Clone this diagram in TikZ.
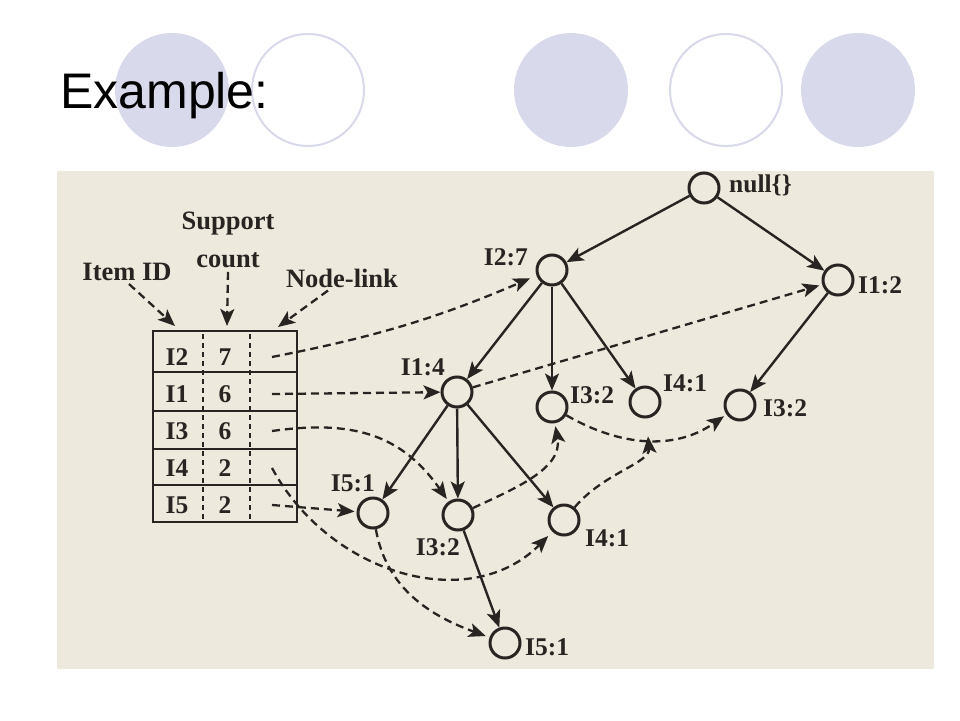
\documentclass[tikz,border=0pt]{standalone}
\usepackage{fontspec}
\setmainfont{Liberation Serif}
\newfontfamily\slidefont{Liberation Sans}
\usetikzlibrary{arrows.meta}
\definecolor{lav}{RGB}{217,217,236}
\definecolor{paper}{RGB}{237,233,220}
\definecolor{ink}{RGB}{40,36,34}
\newcommand{\lbf}{\fontsize{25.5}{25.5}\selectfont\bfseries}
\newcommand{\hdf}{\fontsize{26.5}{26.5}\selectfont\bfseries}
\tikzset{
  fpnode/.style={circle,draw=ink,line width=3pt,minimum size=30pt,inner sep=0pt},
  tree/.style={draw=ink,line width=2.4pt,-{Stealth[length=17pt,width=14pt,inset=4pt]}},
  link/.style={draw=ink,line width=2.3pt,dash pattern=on 8pt off 5pt,-{Stealth[length=17pt,width=14pt,inset=4pt]}},
  lbl/.style={font=\lbf,text=ink,inner sep=0pt},
  hdr/.style={font=\hdf,text=ink,inner sep=0pt},
}
\begin{document}
\begin{tikzpicture}[x=1pt,y=-1pt]
   \useasboundingbox (0,0) rectangle (960,720);
   \fill[white] (0,0) rectangle (960,720);
   \fill[lav] (172,90) circle (57pt);
   \draw[lav,line width=2pt] (308,90) circle (56pt);
   \fill[lav] (571,90) circle (57pt);
   \draw[lav,line width=2pt] (726,90) circle (56pt);
   \fill[lav] (858,90) circle (57pt);
   \node[anchor=base west,inner sep=0pt,font=\slidefont\fontsize{50}{50}\selectfont] (title) at (60,108) {Example:};
   \fill[paper] (57,171) rectangle (934,669);
   \node[fpnode] (root) at (704,188) {};
   \node[fpnode] (i27)  at (552,270) {};
   \node[fpnode] (i12)  at (838,280) {};
   \node[fpnode] (i14)  at (457,392) {};
   \node[fpnode] (i32a) at (552,407) {};
   \node[fpnode] (i41a) at (645,402) {};
   \node[fpnode] (i32b) at (740,405) {};
   \node[fpnode] (i51a) at (373,513) {};
   \node[fpnode] (i32c) at (458,515) {};
   \node[fpnode] (i41b) at (564,520) {};
   \node[fpnode] (i51b) at (505,643) {};
   \node[lbl,anchor=west] (troot) at (729,185) {null\{\}};
   \node[lbl,anchor=east] (t27)   at (528,257) {I2:7};
   \node[lbl,anchor=west] (t12)   at (858,285) {I1:2};
   \node[lbl,anchor=east] (t14)   at (445,367) {I1:4};
   \node[lbl,anchor=west] (t32a)  at (570,395) {I3:2};
   \node[lbl,anchor=west] (t41a)  at (663,383) {I4:1};
   \node[lbl,anchor=west] (t32b)  at (763,408) {I3:2};
   \node[lbl,anchor=east] (t51a)  at (375,483) {I5:1};
   \node[lbl,anchor=east] (t32c)  at (460,547) {I3:2};
   \node[lbl,anchor=west] (t41b)  at (585,538) {I4:1};
   \node[lbl,anchor=west] (t51b)  at (525,647) {I5:1};
   \draw[tree] (root) -- (i27);
   \draw[tree] (root) -- (i12);
   \draw[tree] (i27) -- (i14);
   \draw[tree] (i27) -- (i32a);
   \draw[tree] (i27) -- (i41a);
   \draw[tree] (i12) -- (i32b);
   \draw[tree] (i14) -- (i51a);
   \draw[tree] (i14) -- (i32c);
   \draw[tree] (i14) -- (i41b);
   \draw[tree] (i32c) -- (i51b);
   \draw[ink,line width=2.8pt] (153,331) rectangle (297,522);
   \foreach \y in {372,411,449,485}
      \draw[ink,line width=2pt] (153,\y) -- (297,\y);
   \foreach \x in {203,250}
      \draw[ink,line width=1.6pt,dash pattern=on 5pt off 4pt] (\x,334) -- (\x,519);
   \foreach \id/\cnt [count=\i] in {I2/7,I1/6,I3/6,I4/2,I5/2} {
      \node[lbl] (id\i)  at (177,{357+37*(\i-1)}) {\id};
      \node[lbl] (cnt\i) at (225,{357+37*(\i-1)}) {\cnt};
      \coordinate (nl\i) at (272,{357+37*(\i-1)});
   }
   \node[hdr] (itemid)   at (127,272) {Item ID};
   \node[hdr] (support)  at (228,224) {Support};
   \node[hdr] (count)    at (228,260) {count};
   \node[hdr] (nodelink) at (342,278) {Node-link};
   \coordinate (tid)  at (175,326);
   \coordinate (tcnt) at (227,326);
   \coordinate (tnl)  at (278,327);
   \draw[link] ([xshift=2pt,yshift=-3pt]itemid.south) -- (tid);
   \draw[link] ([yshift=-4pt]count.south) -- (tcnt);
   \draw[link] ([xshift=-14pt,yshift=-3pt]nodelink.south) -- (tnl);
   \draw[link,shorten >=7pt] (nl1) to[bend right=6] (i27.200);
   \draw[link] (nl2) -- (i14);
   \draw[link,shorten >=3pt] (i14) -- (i12);
   \draw[link,shorten >=3pt] (nl3) to[out=8,in=125,looseness=1.1] (i32c);
   \draw[link,shorten >=3pt] (i32c) to[out=25,in=-80] (i32a);
   \draw[link,shorten >=3pt] (i32a) to[out=-30,in=-145] (i32b);
   \draw[link,shorten >=6pt] (nl4) .. controls (330,575) and (470,615) .. (i41b);
   \draw[link,shorten >=18pt] (i41b) to[out=50,in=-85] (i41a);
   \draw[link,shorten >=2pt] (nl5) -- (i51a);
   \draw[link,shorten >=4pt] (i51a) to[out=-80,in=160] (i51b);
\end{tikzpicture}
\end{document}
